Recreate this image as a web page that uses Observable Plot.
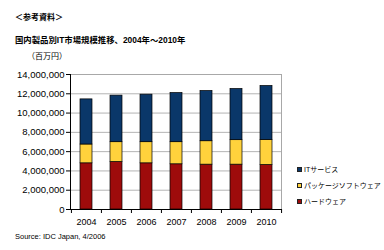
<!DOCTYPE html>
<html>
<head>
<meta charset="utf-8">
<script src="https://cdn.jsdelivr.net/npm/d3@7"></script>
<script src="https://cdn.jsdelivr.net/npm/@observablehq/plot@0.6"></script>
<style>
  html, body { margin: 0; padding: 0; background: #fff; }
  #chart { position: relative; width: 384px; height: 250px; overflow: hidden;
           font-family: "Liberation Sans", "Noto Sans CJK JP", sans-serif; color: #000; }
  #chart svg { position: absolute; left: 0; top: 0; }
  .t { position: absolute; white-space: nowrap; line-height: 1; }
  .legend-row { position: absolute; left: 297px; white-space: nowrap; font-size: 7px; line-height: 1;
                display: flex; align-items: center; }
  .sw { width: 5px; height: 5px; border: 0.8px solid #222; margin-right: 2px; box-sizing: border-box; }
</style>
</head>
<body>
<div id="chart">
  <div class="t" style="left:15px;top:14px;font-size:8px;font-weight:bold;">＜参考資料＞</div>
  <div class="t" style="left:15px;top:36px;font-size:8.4px;font-weight:bold;">国内製品別IT市場規模推移、2004年～2010年</div>
  <div class="t" style="left:27px;top:53px;font-size:8px;">（百万円）</div>
  <div class="t" style="left:15px;top:233px;font-size:7.5px;">Source: IDC Japan, 4/2006</div>
</div>
<script>
// Years on the x axis
const years = [2004, 2005, 2006, 2007, 2008, 2009, 2010];

// Series names (legend order, top to bottom)
const series = ["ITサービス", "パッケージソフトウェア", "ハードウェア"];

// Market size by segment, in millions of yen
const hardware   = [4790000, 4930000, 4790000, 4690000, 4650000, 4650000, 4620000];
const packaged   = [1950000, 2050000, 2190000, 2290000, 2430000, 2540000, 2600000];
const itServices = [4680000, 4830000, 4930000, 5100000, 5210000, 5310000, 5590000];

// Y axis ticks
const yTicks = [0, 2000000, 4000000, 6000000, 8000000, 10000000, 12000000, 14000000];

const colors = ["#0a3769", "#ffd23c", "#9e0b0b"];

const table = years.flatMap((year, i) => [
  {year, kind: series[2], value: hardware[i]},
  {year, kind: series[1], value: packaged[i]},
  {year, kind: series[0], value: itServices[i]}
]);

const W = 384, H = 250, mL = 70, mR = 103, mT = 74, mB = 41;
const step = (W - mL - mR) / years.length;

const chart = Plot.plot({
  width: W, height: H,
  marginLeft: mL, marginRight: mR, marginTop: mT, marginBottom: mB,
  style: {fontFamily: "'Liberation Sans', 'Noto Sans CJK JP', sans-serif", background: "transparent", color: "#000"},
  x: {domain: years, paddingInner: 0.6, paddingOuter: 0.3, label: null},
  y: {domain: [0, 14000000], label: null},
  color: {domain: series, range: colors},
  marks: [
    Plot.gridY(yTicks, {stroke: "#b4b4b4", strokeOpacity: 1}),
    Plot.frame({stroke: "#a8a8a8"}),
    Plot.barY(table, {
      x: "year", y: "value", fill: "kind",
      order: [series[2], series[1], series[0]],
      stroke: "#000", strokeWidth: 0.7
    }),
    Plot.frame({anchor: "left", stroke: "#000"}),
    Plot.frame({anchor: "bottom", stroke: "#000"}),
    Plot.axisY(yTicks, {tickFormat: d3.format(","), tickSize: 4, tickPadding: 2, fontSize: 9.5, label: null}),
    Plot.axisX(years, {tickSize: 0, tickPadding: 9, fontSize: 9, tickFormat: String, label: null}),
    Plot.axisX(years, {tickSize: 4, dx: -step / 2, tickFormat: () => "", label: null}),
    Plot.axisX([years[years.length - 1]], {tickSize: 4, dx: step / 2, tickFormat: () => "", label: null})
  ]
});

const root = document.getElementById("chart");
root.prepend(chart);

// Legend
const legendTops = [166, 182, 198];
series.forEach((name, i) => {
  const row = document.createElement("div");
  row.className = "legend-row";
  row.style.top = legendTops[i] + "px";
  const sw = document.createElement("span");
  sw.className = "sw";
  sw.style.background = colors[i];
  const label = document.createElement("span");
  label.textContent = name;
  row.append(sw, label);
  root.append(row);
});
</script>
</body>
</html>
